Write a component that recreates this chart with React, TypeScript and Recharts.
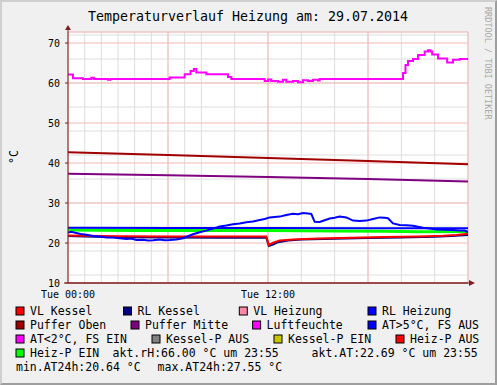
import React from 'react';
import { LineChart, Line, XAxis, YAxis, CartesianGrid } from 'recharts';

// ---------- axes / ticks ----------
const hourTicks = [0, 1, 2, 3, 4, 5, 6, 7, 8, 9, 10, 11, 12, 13, 14, 15, 16, 17, 18, 19, 20, 21, 22, 23, 24];
const majorHourTicks = [0, 6, 12, 18, 24];
const xTickValues = [0, 12];
const xTickLabels = ['Tue 00:00', 'Tue 12:00'];
const yTicks = [10, 20, 30, 40, 50, 60, 70];
const yMinorTicks = [10, 12, 14, 16, 18, 20, 22, 24, 26, 28, 30, 32, 34, 36, 38, 40, 42, 44, 46, 48, 50, 52, 54, 56, 58, 60, 62, 64, 66, 68, 70, 72];
const xDomain = [0, 24];
const yDomain = [10, 72.75];

// ---------- series (hour of day, value) ----------
const vlKessel = [
  [0, 21.9], [1, 21.8], [3, 21.7], [6, 21.65], [9, 21.6], [11.9, 21.6], [12.05, 19.5], [12.3, 20.1],
  [12.7, 20.6], [13.5, 20.9], [15, 21.1], [17, 21.3], [19, 21.5], [21, 21.65], [22.5, 21.8], [23.3, 22.0], [24, 22.3],
];
const rlKessel = [
  [0, 21.75], [1, 21.6], [3, 21.45], [6, 21.35], [9, 21.3], [11.9, 21.3], [12.05, 19.25], [12.3, 19.6],
  [12.6, 20.2], [13.2, 20.6], [14, 20.85], [16, 21.05], [18, 21.25], [20, 21.4], [22, 21.55], [23, 21.75], [24, 22.0],
];
const rlHeizung = [
  [0, 23.8], [6, 23.75], [12, 23.75], [18, 23.7], [24, 23.7],
];
const pufferOben = [
  [0, 42.7], [6, 42.0], [12, 41.25], [18, 40.5], [24, 39.7],
];
const pufferMitte = [
  [0, 37.3], [6, 36.95], [12, 36.5], [18, 36.0], [24, 35.4],
];
const luftfeuchte = [
  [0, 62.1], [0.3, 61.2], [0.9, 61.0], [1.4, 61.3], [1.55, 61.0], [2.4, 60.8], [2.55, 61.0],
  [6.1, 61.4], [7.0, 62.2], [7.35, 63.0], [7.55, 63.5], [7.7, 62.6], [8.3, 62.2], [9.6, 61.5], [9.8, 61.0],
  [11.8, 60.5], [12.0, 60.9], [12.2, 60.5], [12.6, 60.3], [12.9, 60.8], [13.1, 60.3], [13.5, 60.5],
  [13.8, 60.2], [14.1, 60.7], [14.4, 60.5], [14.7, 60.8], [15.0, 60.6], [15.1, 61.0],
  [20.1, 62.5], [20.25, 64.5], [20.4, 65.5], [20.7, 66.0], [21.0, 67.0], [21.4, 67.9], [21.6, 68.2],
  [21.75, 67.9], [21.85, 67.1], [22.2, 66.1], [22.75, 65.1], [23.1, 65.8], [23.5, 66.0], [24, 66.0],
];
const aussenTemp = [
  [0, 22.6], [0.2, 22.8], [0.5, 22.5], [0.75, 22.25], [1.1, 22.05], [1.5, 21.75], [1.9, 21.6], [2.3, 21.4],
  [2.7, 21.35], [3.1, 21.2], [3.5, 21.0], [3.8, 21.1], [4.1, 20.75], [4.5, 20.8], [4.8, 20.65], [5.1, 20.7],
  [5.5, 20.85], [5.8, 20.7], [6.1, 20.75], [6.5, 20.9], [6.9, 21.2], [7.2, 21.7], [7.5, 22.2], [7.9, 22.7],
  [8.3, 23.1], [8.7, 23.6], [9.1, 24.1], [9.5, 24.35], [9.9, 24.7], [10.3, 24.9], [10.7, 25.2], [11.1, 25.4],
  [11.5, 25.75], [11.8, 26.0], [12.1, 26.4], [12.4, 26.5], [12.7, 26.6], [13.1, 27.0], [13.5, 27.3], [13.8, 27.2],
  [14.1, 27.5], [14.4, 27.35], [14.6, 27.25], [14.8, 25.3], [15.1, 25.25], [15.4, 25.7], [15.7, 26.1],
  [16.0, 26.3], [16.3, 26.6], [16.7, 26.4], [17.1, 25.6], [17.5, 25.5], [17.9, 25.6], [18.3, 26.0],
  [18.7, 26.4], [19.0, 26.3], [19.2, 26.2], [19.5, 24.9], [19.9, 24.5], [20.3, 24.45], [20.7, 24.3],
  [21.3, 23.8], [21.7, 23.6], [22.1, 23.4], [22.6, 23.3], [23.1, 23.25], [23.5, 23.1], [23.8, 23.1], [24, 22.7],
];
const heizPEin = [
  [0, 23.25], [4, 23.15], [8, 23.1], [12, 23.1], [16, 23.0], [19, 22.95], [21, 22.8], [24, 22.85],
];

// ---------- legend ----------
const legendLabels = [
  'VL Kessel', 'RL Kessel', 'VL Heizung', 'RL Heizung',
  'Puffer Oben', 'Puffer Mitte', 'Luftfeuchte', 'AT>5°C, FS AUS',
  'AT<2°C, FS EIN', 'Kessel-P AUS', 'Kessel-P EIN', 'Heiz-P AUS',
  'Heiz-P EIN',
];
const legendColors = [
  '#FF0000', '#000080', '#FF88A8', '#0000FF',
  '#A00000', '#800080', '#FF00FF', '#0000FF',
  '#FF00FF', '#808080', '#C8C800', '#FF0000',
  '#00FF00',
];
const infoTexts = ['akt.rH:66.00 °C um 23:55', 'akt.AT:22.69 °C um 23:55', 'min.AT24h:20.64 °C', 'max.AT24h:27.55 °C'];
const titleText = 'Temperaturverlauf Heizung am: 29.07.2014';
const yLabel = '°C';
const watermark = 'RRDTOOL / TOBI OETIKER';

// layout (positions only)
const legendRow = [0, 0, 0, 0, 1, 1, 1, 1, 2, 2, 2, 2, 3];
const legendTextX = [30, 137.5, 253.3, 382, 30, 145, 266.6, 382, 30, 166, 288, 410, 30];
const infoPos = [[112.6, 3], [311.6, 3], [16, 4], [157.6, 4]];
const rowBaseline = (r: number) => 315 + r * 14;

const MONO = "'DejaVu Sans Mono', monospace";
const AXIS = '#7F1F1F';

const toPts = (arr: number[][]) => arr.map(([t, v]) => ({ t, v }));

const XTick = (props: any) => {
  const { x, y, payload } = props;
  const i = xTickValues.indexOf(payload.value);
  return (
    <text x={x} y={y} dy={15} textAnchor="middle" fontSize={10} fontFamily={MONO} fill="#000">
      {i >= 0 ? xTickLabels[i] : ''}
    </text>
  );
};

const YTick = (props: any) => {
  const { x, y, payload } = props;
  return (
    <text x={x} y={y} dy={3.6} textAnchor="end" fontSize={10} fontFamily={MONO} fill="#000">
      {payload.value}
    </text>
  );
};

const series = [
  { data: heizPEin, color: '#00FF00', w: 3 },
  { data: rlHeizung, color: '#0000FF', w: 2 },
  { data: pufferMitte, color: '#800080', w: 2 },
  { data: pufferOben, color: '#A00000', w: 2 },
  { data: rlKessel, color: '#000080', w: 2 },
  { data: vlKessel, color: '#FF0000', w: 2 },
  { data: luftfeuchte, color: '#FF00FF', w: 2, step: true },
  { data: aussenTemp, color: '#0000FF', w: 2 },
];

export default function App() {
  return (
    <div style={{ position: 'absolute', left: 0, top: 0, width: 497, height: 385, background: '#F0F0F0', overflow: 'hidden' }}>
      <div style={{ position: 'absolute', left: 0, top: 0 }}>
        <LineChart width={497} height={385} margin={{ top: 32, right: 29, bottom: 82, left: 8 }}>
          <XAxis xAxisId="minor" type="number" dataKey="t" domain={xDomain} ticks={hourTicks} allowDataOverflow hide />
          <XAxis xAxisId="major" type="number" dataKey="t" domain={xDomain} ticks={majorHourTicks} allowDataOverflow hide />
          <YAxis yAxisId="minor" type="number" domain={yDomain} ticks={yMinorTicks} allowDataOverflow hide />
          <YAxis yAxisId="major" type="number" domain={yDomain} ticks={yTicks} allowDataOverflow hide />
          <CartesianGrid xAxisId="minor" yAxisId="minor" stroke="#DEDEDE" fill="#FFFFFF" fillOpacity={1} />
          <CartesianGrid xAxisId="major" yAxisId="major" stroke="#F4B8B8" />
          <XAxis
            xAxisId="main"
            type="number"
            dataKey="t"
            domain={xDomain}
            ticks={xTickValues}
            allowDataOverflow
            height={20}
            tickSize={0}
            tickMargin={0}
            tickLine={false}
            axisLine={{ stroke: AXIS, strokeWidth: 1 }}
            tick={<XTick />}
          />
          <YAxis
            yAxisId="main"
            type="number"
            domain={yDomain}
            ticks={yTicks}
            allowDataOverflow
            width={60}
            tickSize={3}
            tickMargin={5}
            tickLine={{ stroke: AXIS }}
            axisLine={{ stroke: AXIS, strokeWidth: 1 }}
            tick={<YTick />}
          />
          {series.map((s, i) => (
            <Line
              key={i}
              xAxisId="main"
              yAxisId="main"
              data={toPts(s.data)}
              dataKey="v"
              type={s.step ? 'stepAfter' : 'linear'}
              stroke={s.color}
              strokeWidth={s.w}
              dot={false}
              activeDot={false}
              isAnimationActive={false}
            />
          ))}
        </LineChart>
      </div>
      <svg width={497} height={385} style={{ position: 'absolute', left: 0, top: 0, pointerEvents: 'none' }}>
        {/* axis extensions and arrows */}
        <line x1={68} y1={32} x2={68} y2={29} stroke={AXIS} />
        <polygon points="65,30 71,30 68,25" fill={AXIS} />
        <line x1={64} y1={283} x2={468} y2={283} stroke={AXIS} />
        <line x1={468} y1={283} x2={471} y2={283} stroke={AXIS} />
        <polygon points="469,280 469,286 475,283" fill={AXIS} />

        <text x={248} y={21} textAnchor="middle" fontSize={13.3} fontFamily={MONO} fill="#000">{titleText}</text>
        <text x={18} y={157} textAnchor="middle" fontSize={11.5} fontFamily={MONO} fill="#000" transform="rotate(-90 18 157)">{yLabel}</text>
        <text x={485} y={7} textAnchor="start" fontSize={8.5} fontFamily={MONO} fill="#A8A8A8" transform="rotate(90 485 7)">{watermark}</text>

        {legendLabels.map((lab, i) => {
          const yb = rowBaseline(legendRow[i]);
          const tx = legendTextX[i];
          return (
            <g key={lab + i}>
              <rect x={tx - 14} y={yb - 8} width={8} height={8} fill={legendColors[i]} stroke="#000" strokeWidth={1} />
              <text x={tx} y={yb} fontSize={11.5} fontFamily={MONO} fill="#000">{lab}</text>
            </g>
          );
        })}
        {infoTexts.map((t, i) => (
          <text key={t} x={infoPos[i][0]} y={rowBaseline(infoPos[i][1])} fontSize={11.5} fontFamily={MONO} fill="#000" style={{ whiteSpace: 'pre' }}>{t}</text>
        ))}
      </svg>
      <div style={{ position: 'absolute', left: 0, top: 0, width: 497, height: 385, boxSizing: 'border-box', borderStyle: 'solid', borderWidth: 2, borderColor: '#CFCFCF #9E9E9E #9E9E9E #CFCFCF', pointerEvents: 'none' }} />
    </div>
  );
}
